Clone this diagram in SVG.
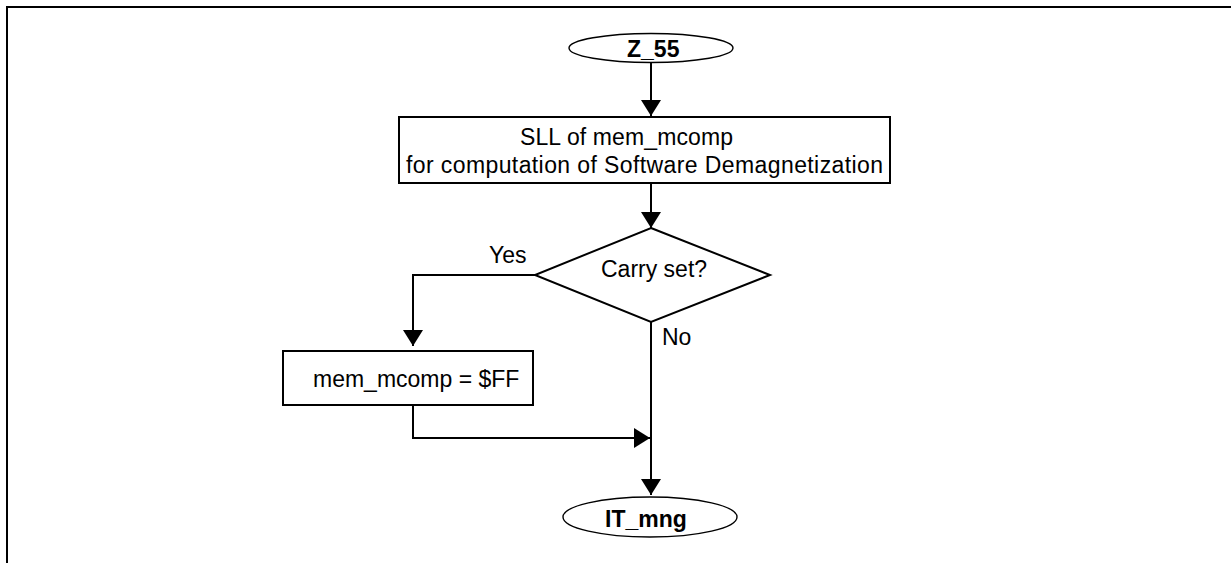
<svg xmlns="http://www.w3.org/2000/svg" width="1231" height="563" viewBox="0 0 1231 563">
  <style>
    .line { fill: none; stroke: #000; stroke-width: 2; }
    .shape { fill: #fff; stroke: #000; stroke-width: 2; }
    .term { fill: #fff; stroke: #000; stroke-width: 1.4; }
    .txt { font-family: "Liberation Sans", Arial, sans-serif; font-size: 23px; fill: #000; }
    .bold { font-weight: bold; }
  </style>
  <defs>
    <marker id="arrow" markerUnits="userSpaceOnUse" markerWidth="20" markerHeight="20" viewBox="0 0 16 20" refX="16" refY="10" orient="auto">
      <path d="M0,0 L16,10 L0,20 Z" fill="#000"/>
    </marker>
  </defs>
  <rect width="1231" height="563" fill="#fff"/>

  <!-- page frame -->
  <path class="line" d="M7,563 V7 H1231"/>

  <!-- connectors -->
  <g id="connectors">
    <path class="line" d="M651,62 V116" marker-end="url(#arrow)"/>
    <path class="line" d="M651,183 V228" marker-end="url(#arrow)"/>
    <path class="line" d="M535,275 H413 V346" marker-end="url(#arrow)"/>
    <path class="line" d="M413,404 V438 H650" marker-end="url(#arrow)"/>
    <path class="line" d="M651,322 V495" marker-end="url(#arrow)"/>
    <text class="txt" x="489" y="263">Yes</text>
    <text class="txt" x="662" y="345">No</text>
  </g>

  <g id="start">
    <ellipse class="term" cx="651" cy="48" rx="82" ry="14.5"/>
    <text class="txt bold" x="627" y="57">Z_55</text>
  </g>

  <g id="shift">
    <rect class="shape" x="399" y="117" width="491" height="66"/>
    <text class="txt" x="520" y="145" textLength="213">SLL of mem_mcomp</text>
    <text class="txt" x="406" y="173" textLength="477">for computation of Software Demagnetization</text>
  </g>

  <g id="carry">
    <polygon class="shape" points="651,228 770,275 651,322 535,275"/>
    <text class="txt" x="601" y="277">Carry set?</text>
  </g>

  <g id="saturate">
    <rect class="shape" x="283" y="351" width="250" height="54"/>
    <text class="txt" x="313" y="387">mem_mcomp = $FF</text>
  </g>

  <g id="end">
    <ellipse class="term" cx="650" cy="517" rx="87" ry="20"/>
    <text class="txt bold" x="605" y="527">IT_mng</text>
  </g>
</svg>
